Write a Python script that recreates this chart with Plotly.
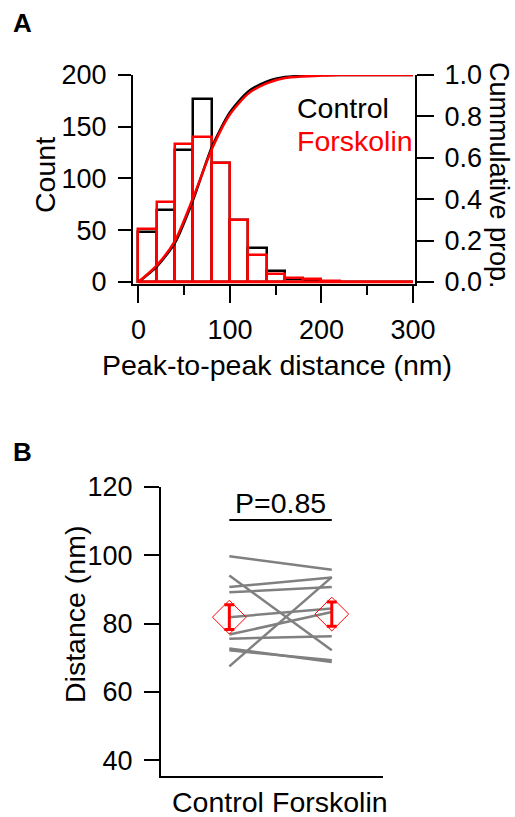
import plotly.graph_objects as go

W, H = 515, 817

# ---------------- Panel A data ----------------
bin_centers = [10, 30, 50, 70, 90, 110, 130, 150, 170, 190, 210, 230, 250, 270, 290]
bin_width = 20
control_counts = [48, 70, 128, 177, 115, 60, 33, 11, 3, 2, 0, 0, 0, 0, 0]
forskolin_counts = [51, 77, 133, 140, 115, 60, 26, 8, 4, 3, 1, 0, 0, 0, 0]

cum_x = [0, 20, 40, 60, 80, 100, 120, 140, 160, 180, 200, 220, 240, 260, 280, 300]
control_cum = [0, 0.074, 0.19, 0.40, 0.65, 0.82, 0.92, 0.968, 0.99, 0.996, 1.0, 1.0, 1.0, 1.0, 1.0, 1.0]
forskolin_cum = [0, 0.08, 0.20, 0.41, 0.64, 0.81, 0.91, 0.96, 0.985, 0.993, 0.997, 1.0, 1.0, 1.0, 1.0, 1.0]

# ---------------- Panel B data ----------------
conditions = ["Control", "Forskolin"]
pair_control = [99.7, 94.1, 90.7, 89.2, 81.9, 76.8, 75.6, 72.7, 72.2, 67.5]
pair_forskolin = [95.8, 72.2, 93.5, 90.7, 84.4, 83.4, 76.3, 68.8, 69.3, 93.6]
mean_values = [81.9, 82.8]
sem_values = [3.6, 3.55]
p_text = "P=0.85"

FONT = "Liberation Sans, Arial, sans-serif"
FS = 27      # tick labels
FT = 28.5    # titles and other text
RED = "#ff0000"
GRAY = "#808080"


def px(x):
    return x / W


def py(y):
    return 1 - y / H


fig = go.Figure()

# Histograms
fig.add_trace(go.Bar(x=bin_centers, y=control_counts, width=bin_width,
                     marker=dict(color="rgba(0,0,0,0)", line=dict(color="black", width=2.5)),
                     xaxis="x", yaxis="y", showlegend=False))
fig.add_trace(go.Bar(x=bin_centers, y=forskolin_counts, width=bin_width,
                     marker=dict(color="rgba(0,0,0,0)", line=dict(color=RED, width=2.5)),
                     xaxis="x", yaxis="y", showlegend=False))
# Cumulative curves
fig.add_trace(go.Scatter(x=cum_x, y=control_cum, mode="lines",
                         line=dict(color="black", width=2.5, shape="spline", smoothing=0.7),
                         xaxis="x", yaxis="y2", showlegend=False, cliponaxis=False))
fig.add_trace(go.Scatter(x=cum_x, y=forskolin_cum, mode="lines",
                         line=dict(color=RED, width=2.5, shape="spline", smoothing=0.7),
                         xaxis="x", yaxis="y2", showlegend=False, cliponaxis=False))

# Panel B paired lines
for c, f in zip(pair_control, pair_forskolin):
    fig.add_trace(go.Scatter(x=[0, 1], y=[c, f], mode="lines",
                             line=dict(color=GRAY, width=2.5),
                             xaxis="x3", yaxis="y3", showlegend=False))
fig.add_trace(go.Scatter(x=[0, 1], y=mean_values, mode="markers",
                         marker=dict(symbol="diamond-open", size=26, color=RED, line=dict(color=RED, width=1)),
                         error_y=dict(type="data", array=sem_values, color=RED, thickness=3, width=5),
                         xaxis="x3", yaxis="y3", showlegend=False))

axis_common = dict(showgrid=False, zeroline=False, showline=True, linecolor="black", linewidth=2,
                   ticks="outside", tickcolor="black", tickwidth=2, automargin=False,
                   tickfont=dict(family=FONT, size=FS, color="black"))

fig.update_layout(
    template="none",
    width=W, height=H,
    margin=dict(l=0, r=0, t=0, b=0, pad=0),
    paper_bgcolor="white", plot_bgcolor="rgba(0,0,0,0)",
    barmode="overlay", bargap=0,
    font=dict(family=FONT, size=FS, color="black"),
    xaxis=dict(domain=[px(133), px(415)], range=[-6.0, 302.2], anchor="y",
               tickvals=[0, 100, 200, 300], ticklen=17, ticklabelstandoff=4,
               minor=dict(tickvals=[50, 150, 250], ticklen=9, tickwidth=2, tickcolor="black", ticks="outside"),
               **axis_common),
    yaxis=dict(domain=[py(284), py(75)], range=[-2, 200], anchor="x",
               tickvals=[0, 50, 100, 150, 200], ticklen=13, ticklabelstandoff=6, **axis_common),
    yaxis2=dict(overlaying="y", side="right", range=[-0.01, 1.0], anchor="x",
                tickvals=[0, 0.2, 0.4, 0.6, 0.8, 1.0], tickformat=".1f", ticklen=17,
                ticklabelstandoff=5, **axis_common),
    xaxis3=dict(domain=[px(161), px(383)], range=[-0.667, 1.5], anchor="y3",
                showgrid=False, zeroline=False, showline=True, linecolor="black", linewidth=2,
                ticks="", showticklabels=False, automargin=False),
    yaxis3=dict(domain=[py(776), py(487)], range=[35.4, 120], anchor="x3",
                tickvals=[40, 60, 80, 100, 120], ticklen=15, ticklabelstandoff=6, **axis_common),
)

# red zero baseline of the histogram
fig.add_shape(type="line", xref="x", yref="y", x0=0, x1=300, y0=0, y1=0,
              line=dict(color=RED, width=2.5))
# significance bar
fig.add_shape(type="line", xref="x3", yref="paper", x0=0, x1=1, y0=py(520), y1=py(520),
              line=dict(color="black", width=2))


def ann(text, x, y, size=FT, color="black", angle=0, xanchor="center", bold=False):
    fig.add_annotation(text=f"<b>{text}</b>" if bold else text, x=px(x), y=py(y),
                       xref="paper", yref="paper", showarrow=False,
                       xanchor=xanchor, yanchor="middle", textangle=angle,
                       font=dict(family=FONT, size=size, color=color))


ann("A", 22, 23, size=26, bold=True)
ann("B", 22, 452, size=26, bold=True)
ann("Count", 45, 175, angle=-90)
ann("Peak-to-peak distance (nm)", 277, 365)
ann("Cummulative prop.", 499, 175, size=27, angle=90)
ann("Control", 295, 108, xanchor="left")
ann("Forskolin", 295, 141, color=RED, xanchor="left")
ann("Distance (nm)", 75, 615, angle=-90)
ann(p_text, 280, 503)
ann(conditions[0], 218, 802)
ann(conditions[1], 330, 802)

fig.write_html("out.html", config={"responsive": False, "displayModeBar": False},
               post_script="document.body.style.margin='0px';document.body.style.overflow='hidden';")
